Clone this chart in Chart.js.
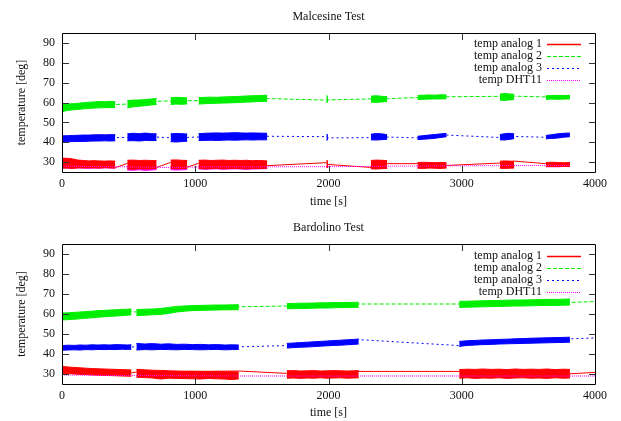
<!DOCTYPE html>
<html><head><meta charset="utf-8">
<script src="https://cdn.jsdelivr.net/npm/chart.js@4.4.1/dist/chart.umd.min.js"></script>
<style>
html,body{margin:0;padding:0;background:#fff;}
#wrap{position:relative;width:621px;height:421px;background:#fff;}
canvas{position:absolute;left:0;}
</style></head><body>
<div id="wrap">
<canvas id="c1" width="621" height="210" style="top:0px"></canvas>
<canvas id="c2" width="621" height="211" style="top:210px"></canvas>
</div>
<script>
// ---------------- DATA ----------------
const seriesNames = ['temp analog 1', 'temp analog 2', 'temp analog 3', 'temp DHT11'];
const chartTitles = ['Malcesine Test', 'Bardolino Test'];
const xTickValues = [0, 1000, 2000, 3000, 4000];
const yTickValues = [30, 40, 50, 60, 70, 80, 90];

// Malcesine: sampled band envelopes (null = gap between logging runs)
const malcTimes = [0,40,80,120,160,200,240,280,320,360,400, null,
  490,535,580,625,670,710, null,
  815,855,900,940, null,
  1025,1070,1115,1160,1205,1250,1295,1340,1385,1430,1475,1540, null,
  1984,1996, null,
  2318,2360,2400,2440, null,
  2668,2710,2755,2800,2845,2886, null,
  3286,3320,3355,3393, null,
  3631,3675,3720,3765,3812];
const malcRedHi = [32.0,31.9,31.6,31.0,30.8,30.6,30.7,30.6,30.5,30.6,30.5, null,
  30.9,31.0,30.8,30.9,30.8,30.7, null,
  31.0,31.1,30.9,30.8, null,
  30.9,31.0,30.8,30.9,31.0,30.8,30.9,30.8,30.9,30.7,30.8,30.6, null,
  30.9,30.5, null,
  30.8,31.0,30.9,30.7, null,
  29.8,29.9,29.8,29.7,29.8,29.7, null,
  30.4,30.6,30.5,30.3, null,
  29.8,29.9,29.8,29.7,29.8];
const malcRedLo = [26.9,27.0,26.8,27.1,27.0,27.2,27.1,27.0,27.2,27.1,27.0, null,
  26.6,26.4,26.7,26.5,26.6,26.8, null,
  26.8,26.6,26.7,26.9, null,
  26.8,26.6,26.7,26.8,26.6,26.7,26.8,26.7,26.6,26.8,26.7,26.9, null,
  27.2,27.4, null,
  26.6,26.5,26.7,26.8, null,
  26.9,26.8,27.0,26.9,26.8,27.0, null,
  26.9,26.8,26.9,27.0, null,
  27.8,27.7,27.8,27.9,27.8];
const malcGreenHi = [59.0,59.2,59.4,59.6,59.9,60.1,60.3,60.5,60.4,60.6,60.4, null,
  61.0,61.2,61.3,61.5,61.8,62.0, null,
  62.4,62.6,62.5,62.3, null,
  62.5,62.6,62.7,62.6,62.8,62.9,63.0,63.1,63.3,63.4,63.5,63.6, null,
  63.5,63.0, null,
  63.2,63.4,63.1,63.0, null,
  63.5,63.7,63.8,63.7,63.9,63.8, null,
  64.2,64.6,64.3,64.2, null,
  63.4,63.5,63.6,63.5,63.6];
const malcGreenLo = [55.4,56.0,56.3,56.5,56.8,57.0,57.2,57.3,57.4,57.4,57.5, null,
  57.3,57.8,58.1,58.4,58.8,59.0, null,
  59.0,59.2,59.1,59.3, null,
  59.2,59.4,59.5,59.6,59.7,59.8,59.9,60.0,60.2,60.3,60.5,60.6, null,
  60.0,60.2, null,
  60.2,60.0,60.3,60.5, null,
  61.5,61.6,61.7,61.8,61.8,61.9, null,
  61.2,61.0,61.3,61.5, null,
  61.6,61.7,61.6,61.7,61.8];
const malcBlueHi = [43.2,43.3,43.4,43.5,43.6,43.6,43.7,43.8,43.7,43.8,43.8, null,
  44.2,44.5,44.3,44.6,44.3,44.2, null,
  44.2,44.4,44.3,44.1, null,
  44.3,44.5,44.6,44.7,44.6,44.7,44.8,44.7,44.6,44.7,44.6,44.5, null,
  44.0,43.6, null,
  44.0,44.4,44.2,43.8, null,
  43.0,43.3,43.6,43.9,44.2,44.4, null,
  43.8,44.3,44.5,44.2, null,
  43.4,43.8,44.2,44.5,44.6];
const malcBlueLo = [40.0,40.2,40.3,40.4,40.4,40.5,40.6,40.6,40.7,40.6,40.7, null,
  40.7,40.8,40.6,40.9,40.8,40.9, null,
  40.3,40.1,40.3,40.5, null,
  40.8,40.9,41.0,40.9,41.0,41.1,41.0,41.1,41.2,41.1,41.2,41.2, null,
  41.0,41.3, null,
  41.2,41.1,41.3,41.5, null,
  41.3,41.5,41.7,42.0,42.4,42.8, null,
  41.2,41.1,41.4,41.8, null,
  41.7,41.9,42.1,42.5,42.8];
const malcDhtHi = [28.5,28.4,28.3,28.4,28.3,28.2,28.3,28.2,28.3,28.2,28.1, null,
  28.1,28.0,28.1,28.0,27.9,28.0, null,
  28.0,27.9,28.0,27.9, null,
  28.1,28.0,28.1,28.2,28.1,28.0,28.1,28.2,28.1,28.2,28.1,28.0, null,
  28.0,27.9, null,
  28.2,28.3,28.2,28.3, null,
  28.4,28.3,28.4,28.5,28.4,28.5, null,
  28.5,28.6,28.5,28.6, null,
  28.6,28.5,28.6,28.7,28.6];
const malcDhtLo = [27.2,27.0,26.9,27.1,27.0,26.8,27.0,26.9,27.1,27.0,26.9, null,
  26.0,25.9,26.1,25.8,26.0,26.2, null,
  26.2,26.0,26.1,26.3, null,
  26.6,26.4,26.5,26.6,26.4,26.5,26.6,26.5,26.4,26.5,26.6,26.7, null,
  27.4,27.5, null,
  26.8,26.7,26.9,27.0, null,
  27.2,27.3,27.2,27.4,27.3,27.4, null,
  27.3,27.4,27.3,27.5, null,
  27.6,27.7,27.6,27.8,27.7];
// Malcesine: connecting lines (values at ends of each run)
const malcLineTimes = [0,400,490,710,815,940,1025,1540,1984,1996,2318,2440,2668,2886,3286,3393,3631,3812];
const malcRed   = [29.5,27.2,29.3,27.3,29.8,27.4,29.4,28.2,29.7,28.8,27.3,29.2,29.2,28.3,29.5,30.5,29.2,28.8];
const malcGreen = [57.2,59.0,59.2,60.6,60.8,60.9,60.9,62.0,61.2,61.3,61.8,61.9,62.5,62.9,63.1,63.2,62.8,62.7];
const malcBlue  = [41.5,42.3,42.4,42.6,42.2,42.4,42.6,43.0,42.8,42.2,42.3,42.6,42.2,43.6,42.4,42.9,42.5,43.5];
const malcDht   = [28.0,27.6,27.6,27.4,27.2,27.4,27.6,27.6,27.7,27.7,27.8,27.9,28.0,28.1,28.2,28.2,28.3,28.3];

// Bardolino: sampled band envelopes
const bardTimes = [0,45,90,135,180,225,270,315,360,405,450,490,521, null,
  558,620,680,740,800,860,920,980,1040,1100,1160,1220,1280,1327, null,
  1687,1740,1790,1840,1890,1940,1990,2040,2090,2140,2190,2227, null,
  2981,3040,3100,3160,3220,3280,3340,3400,3460,3520,3580,3640,3700,3760,3812];
const bardRedHi = [33.8,33.5,33.3,33.1,32.9,32.7,32.6,32.5,32.4,32.3,32.2,32.1,32.0, null,
  32.3,32.1,31.9,31.8,31.6,31.5,31.4,31.4,31.3,31.2,31.2,31.1,31.1,31.0, null,
  31.6,31.7,31.5,31.6,31.7,31.5,31.6,31.7,31.6,31.5,31.6,31.7, null,
  32.2,32.4,32.3,32.5,32.3,32.4,32.2,32.5,32.3,32.4,32.3,32.5,32.2,32.4,32.3];
const bardRedLo = [30.4,30.2,30.0,29.8,29.7,29.5,29.4,29.3,29.2,29.1,29.0,28.9,28.9, null,
  28.4,28.2,28.0,27.5,27.9,27.8,27.7,27.6,27.5,27.8,27.6,27.5,27.2,27.6, null,
  27.9,28.0,27.8,28.0,27.9,28.1,27.9,28.0,28.1,27.9,28.0,28.1, null,
  27.9,28.1,27.8,28.0,27.9,28.1,27.8,28.0,28.1,27.9,28.0,27.8,28.1,27.9,28.0];
const bardGreenHi = [60.5,60.6,60.8,61.0,61.2,61.4,61.7,61.8,62.0,62.1,62.3,62.4,62.5, null,
  62.2,62.4,62.5,62.7,63.3,63.8,64.0,64.2,64.3,64.4,64.5,64.5,64.6,64.6, null,
  65.2,65.3,65.4,65.4,65.5,65.6,65.6,65.7,65.7,65.8,65.8,65.9, null,
  66.3,66.4,66.5,66.6,66.7,66.8,66.9,67.0,67.0,67.1,67.2,67.3,67.3,67.4,67.5];
const bardGreenLo = [57.0,57.2,57.4,57.6,57.9,58.1,58.4,58.6,58.8,59.0,59.2,59.4,59.6, null,
  59.2,59.4,59.6,59.8,60.3,61.0,61.4,61.7,61.8,61.9,62.0,62.1,62.1,62.2, null,
  62.6,62.7,62.7,62.8,62.9,63.0,63.0,63.1,63.2,63.2,63.3,63.4, null,
  63.3,63.4,63.5,63.6,63.7,63.8,63.9,64.0,64.0,64.1,64.2,64.3,64.3,64.4,64.5];
const bardBlueHi = [44.2,44.4,44.3,44.5,44.4,44.6,44.5,44.6,44.5,44.7,44.6,44.5,44.6, null,
  45.3,45.0,45.2,44.9,45.1,44.8,44.9,44.7,44.8,44.6,44.7,44.5,44.6,44.5, null,
  45.3,45.5,45.7,45.9,46.1,46.3,46.5,46.7,46.9,47.1,47.3,47.5, null,
  46.3,46.6,46.8,47.0,47.1,47.3,47.4,47.6,47.7,47.9,48.0,48.1,48.2,48.3,48.4];
const bardBlueLo = [41.9,42.0,42.1,42.0,42.2,42.1,42.3,42.2,42.3,42.2,42.4,42.3,42.4, null,
  42.0,42.2,42.1,42.3,42.2,42.1,42.3,42.2,42.1,42.2,42.3,42.1,42.2,42.3, null,
  43.0,43.2,43.4,43.5,43.7,43.9,44.1,44.3,44.4,44.6,44.8,45.0, null,
  43.8,44.3,44.5,44.7,44.8,45.0,45.1,45.2,45.3,45.4,45.5,45.6,45.7,45.8,45.9];
// Bardolino: connecting lines
const bardLineTimes = [0,521,558,1327,1687,2227,2981,3812,4000];
const bardRed   = [32.0,30.6,31.0,31.5,30.3,31.3,31.3,30.1,30.8];
const bardGreen = [58.5,61.2,61.0,63.6,64.0,65.0,65.0,65.8,66.2];
const bardBlue  = [43.0,43.5,43.6,43.6,44.2,47.2,44.2,47.6,48.0];
const bardDht   = [29.5,29.2,29.2,29.0,29.0,29.0,29.0,29.0,29.0];

// ---------------- STYLE ----------------
const FONT = '"Liberation Serif", "DejaVu Serif", "Times New Roman", serif';
Chart.defaults.font.family = FONT;
Chart.defaults.font.size = 12;
Chart.defaults.color = '#111';
const seriesStyle = [
  {color: '#ff0000', dash: [], legendWidth: 1.6, bandOrder: 9, lineOrder: 8},
  {color: '#00ee00', dash: [4, 2], legendWidth: 1, bandOrder: 7, lineOrder: 6},
  {color: '#0000ff', dash: [2, 3], legendWidth: 1, bandOrder: 5, lineOrder: 4},
  {color: '#ff00ff', dash: [1, 1], legendWidth: 1, bandOrder: 10, lineOrder: 3}
];

function splitSegments(times, vals) {
  const segs = []; let cur = [];
  times.forEach((t, i) => {
    if (t === null) { if (cur.length) segs.push(cur); cur = []; }
    else cur.push({x: t, y: vals[i]});
  });
  if (cur.length) segs.push(cur);
  return segs;
}

function buildDatasets(times, bands, lineTimes, lines) {
  const ds = [];
  bands.forEach((b, si) => {
    if (!b) return;
    const st = seriesStyle[si];
    const loSegs = splitSegments(times, b.lo);
    const hiSegs = splitSegments(times, b.hi);
    loSegs.forEach((seg, k) => {
      ds.push({data: seg, borderColor: st.color, backgroundColor: st.color, borderWidth: 1,
               fill: false, order: st.bandOrder, pointRadius: 0});
      ds.push({data: hiSegs[k], borderColor: st.color, backgroundColor: st.color, borderWidth: 1,
               fill: '-1', order: st.bandOrder, pointRadius: 0});
    });
  });
  lines.forEach((vals, si) => {
    const st = seriesStyle[si];
    ds.push({data: lineTimes.map((t, i) => ({x: t, y: vals[i]})), borderColor: st.color,
             borderDash: st.dash, borderWidth: 1, fill: false, order: st.lineOrder, pointRadius: 0});
  });
  return ds;
}

const decorPlugin = {
  id: 'decor',
  afterDatasetsDraw(chart) {
    const {ctx, chartArea: a, scales: {x, y}} = chart;
    ctx.save();
    ctx.strokeStyle = '#000';
    ctx.lineWidth = 1;
    ctx.setLineDash([]);
    ctx.beginPath();
    ctx.rect(a.left + 0.5, a.top + 0.5, a.right - a.left, a.bottom - a.top);
    ctx.stroke();
    ctx.strokeStyle = '#333';
    ctx.beginPath();
    x.ticks.forEach(t => {
      const px = Math.round(x.getPixelForValue(t.value)) + 0.5;
      if (px <= a.left + 1 || px >= a.right - 1) return;
      ctx.moveTo(px, a.bottom); ctx.lineTo(px, a.bottom - 6);
      ctx.moveTo(px, a.top + 1); ctx.lineTo(px, a.top + 7);
    });
    y.ticks.forEach(t => {
      const py = Math.round(y.getPixelForValue(t.value)) + 0.5;
      ctx.moveTo(a.left + 1, py); ctx.lineTo(a.left + 7, py);
      ctx.moveTo(a.right, py); ctx.lineTo(a.right - 6, py);
    });
    ctx.stroke();
    ctx.restore();
  },
  afterDraw(chart) {
    const {ctx, chartArea: a} = chart;
    const opts = chart.options.plugins.decor;
    ctx.save();
    ctx.fillStyle = '#111';
    ctx.font = '12px ' + FONT;
    ctx.textBaseline = 'middle';
    ctx.textAlign = 'center';
    ctx.fillText(opts.title, (a.left + a.right) / 2, a.top - 16.5);
    // legend (gnuplot style: label then line sample)
    ctx.textAlign = 'right';
    seriesNames.forEach((name, i) => {
      const yy = a.top + opts.legendTop + 11.8 * i;
      ctx.fillStyle = '#111';
      ctx.fillText(name, a.right - 53, yy);
      const st = seriesStyle[i];
      ctx.strokeStyle = st.color;
      ctx.lineWidth = st.legendWidth;
      ctx.setLineDash(st.dash);
      ctx.beginPath();
      ctx.moveTo(a.right - 48, Math.round(yy) + 0.5);
      ctx.lineTo(a.right - 14, Math.round(yy) + 0.5);
      ctx.stroke();
    });
    ctx.restore();
  }
};

function makeChart(id, title, padTop, xHeight, legendTop, datasets) {
  return new Chart(document.getElementById(id), {
    type: 'line',
    data: {datasets},
    plugins: [decorPlugin],
    options: {
      responsive: false, animation: false, devicePixelRatio: 1,
      layout: {padding: {top: padTop, right: 26, left: 0, bottom: 0}},
      plugins: {legend: {display: false}, tooltip: {enabled: false}, title: {display: false},
                decor: {title, legendTop}},
      elements: {point: {radius: 0}, line: {tension: 0}},
      scales: {
        x: {type: 'linear', min: 0, max: 4000,
            grid: {display: false, drawTicks: false}, border: {display: false},
            afterBuildTicks: s => { s.ticks = xTickValues.map(v => ({value: v})); },
            afterFit: s => { s.height = xHeight; },
            ticks: {padding: 5, color: '#111', maxRotation: 0, autoSkip: false, callback: v => String(v)},
            title: {display: true, text: 'time [s]', color: '#111', padding: {top: 0, bottom: 1}}},
        y: {type: 'linear', min: 25, max: 95,
            grid: {display: false, drawTicks: false}, border: {display: false},
            afterBuildTicks: s => { s.ticks = yTickValues.map(v => ({value: v})); },
            afterFit: s => { s.width = 62; },
            ticks: {padding: 7, color: '#111', autoSkip: false, callback: v => String(v)},
            title: {display: true, text: 'temperature [deg]', color: '#111', padding: {top: 15, bottom: 0}}}
      }
    }
  });
}

makeChart('c1', chartTitles[0], 33, 38, 11.3,
  buildDatasets(malcTimes,
    [{hi: malcRedHi, lo: malcRedLo}, {hi: malcGreenHi, lo: malcGreenLo},
     {hi: malcBlueHi, lo: malcBlueLo}, {hi: malcDhtHi, lo: malcDhtLo}],
    malcLineTimes, [malcRed, malcGreen, malcBlue, malcDht]));

makeChart('c2', chartTitles[1], 34, 37, 12.3,
  buildDatasets(bardTimes,
    [{hi: bardRedHi, lo: bardRedLo}, {hi: bardGreenHi, lo: bardGreenLo},
     {hi: bardBlueHi, lo: bardBlueLo}, null],
    bardLineTimes, [bardRed, bardGreen, bardBlue, bardDht]));
</script>
</body></html>
